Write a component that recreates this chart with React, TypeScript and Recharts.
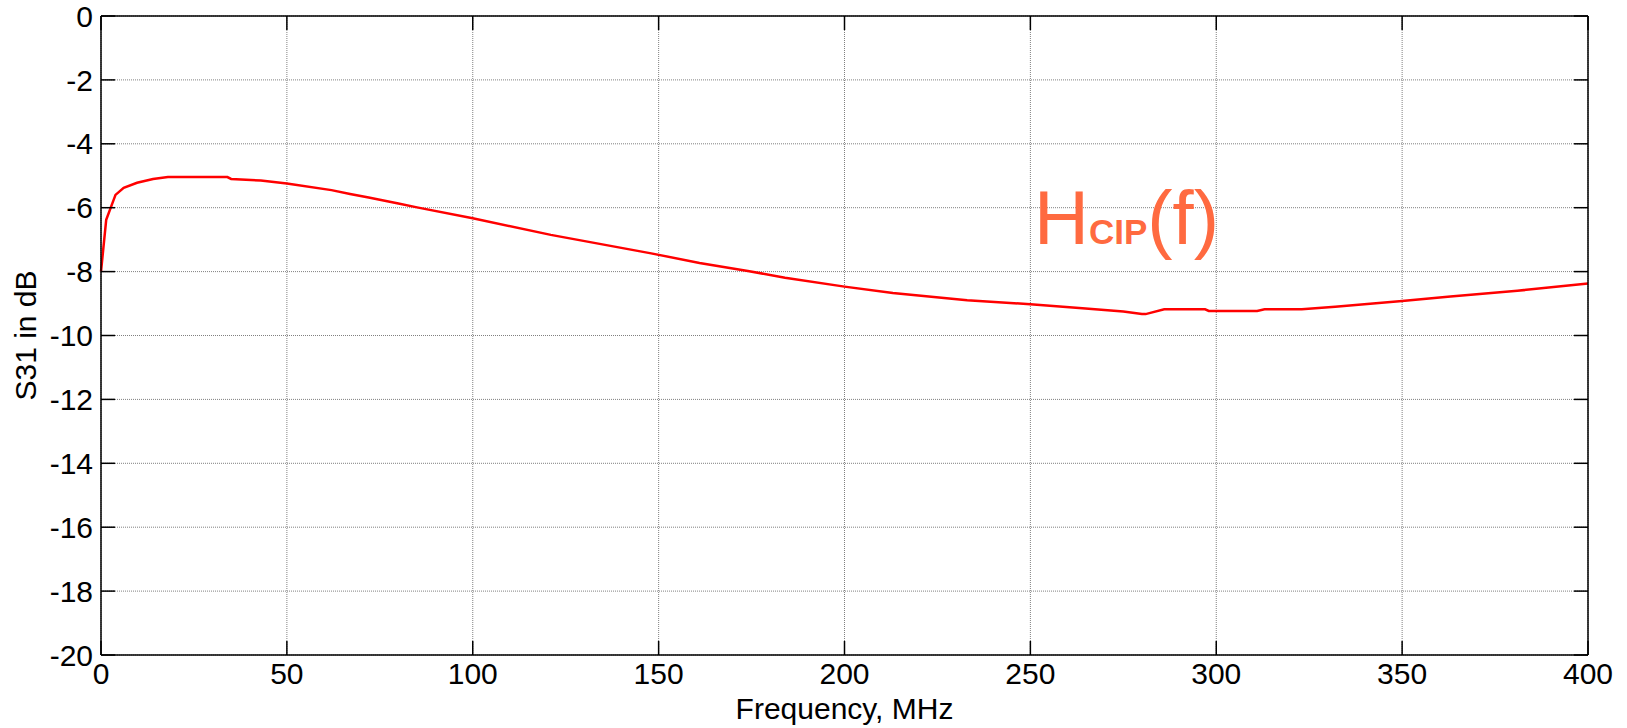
import React from "react";
import { LineChart, Line, XAxis, YAxis, CartesianGrid, Label } from "recharts";

// frequency in MHz and S31 in dB
const freqMHz = [
  0, 1.4, 3.9, 6.1, 9.7, 14, 18, 34, 35, 43, 50, 62, 67, 72, 80, 85, 100, 121, 148,
  161, 174, 184, 200, 213, 233, 250, 264, 275, 280, 281, 286, 297, 298, 311, 313,
  323, 332, 350, 363, 381, 400,
];
const s31dB = [
  -8.0, -6.38, -5.6, -5.38, -5.22, -5.1, -5.04, -5.04, -5.1, -5.15, -5.24, -5.45,
  -5.57, -5.68, -5.87, -5.99, -6.33, -6.85, -7.43, -7.73, -7.98, -8.19, -8.47,
  -8.67, -8.9, -9.02, -9.15, -9.25, -9.33, -9.33, -9.18, -9.18, -9.23, -9.23,
  -9.18, -9.18, -9.1, -8.92, -8.78, -8.6, -8.37,
];
const xTicks = [0, 50, 100, 150, 200, 250, 300, 350, 400];
const yTicks = [0, -2, -4, -6, -8, -10, -12, -14, -16, -18, -20];

const data = freqMHz.map((f, i) => ({ f, s31: s31dB[i] }));

const FONT = "Arial, 'Liberation Sans', Helvetica, sans-serif";
const frame = { stroke: "#000", strokeWidth: 1.5 };
const inTick = { stroke: "#000", strokeWidth: 1.5 };
const noLabel = () => <g />;

export default function App() {
  return (
    <div
      style={{
        position: "absolute",
        left: 0,
        top: 0,
        width: 1627,
        height: 728,
        background: "#fff",
        fontFamily: FONT,
      }}
    >
      <LineChart
        width={1627}
        height={728}
        data={data}
        margin={{ top: 16, right: 39, bottom: 0, left: 0 }}
        style={{ fontFamily: FONT }}
      >
        <CartesianGrid stroke="#808080" strokeDasharray="1 1" />
        <XAxis
          dataKey="f"
          type="number"
          domain={[0, 400]}
          ticks={xTicks}
          interval={0}
          height={73}
          axisLine={frame}
          tickLine={false}
          tickMargin={2}
          tick={{ fill: "#000", fontSize: 30 }}
        >
          <Label value="Frequency, MHz" position="insideBottom" offset={9} fill="#000" fontSize={30} />
        </XAxis>
        <YAxis
          type="number"
          domain={[-20, 0]}
          ticks={yTicks}
          interval={0}
          width={101}
          axisLine={frame}
          tickLine={false}
          tick={{ fill: "#000", fontSize: 30 }}
        >
          <Label
            value="S31 in dB"
            angle={-90}
            position="insideLeft"
            offset={25}
            fill="#000"
            fontSize={30}
            style={{ textAnchor: "middle" }}
          />
        </YAxis>

        {/* inward tick marks and the closed box, matlab style */}
        <XAxis
          xAxisId="top"
          orientation="top"
          mirror
          dataKey="f"
          type="number"
          domain={[0, 400]}
          ticks={xTicks}
          interval={0}
          tick={noLabel}
          tickSize={14}
          axisLine={frame}
          tickLine={inTick}
        />
        <XAxis
          xAxisId="bottomIn"
          orientation="bottom"
          mirror
          dataKey="f"
          type="number"
          domain={[0, 400]}
          ticks={xTicks}
          interval={0}
          tick={noLabel}
          tickSize={14}
          axisLine={false}
          tickLine={inTick}
        />
        <YAxis
          yAxisId="right"
          orientation="right"
          mirror
          type="number"
          domain={[-20, 0]}
          ticks={yTicks}
          interval={0}
          tick={noLabel}
          tickSize={14}
          axisLine={frame}
          tickLine={inTick}
        />
        <YAxis
          yAxisId="leftIn"
          orientation="left"
          mirror
          type="number"
          domain={[-20, 0]}
          ticks={yTicks}
          interval={0}
          tick={noLabel}
          tickSize={14}
          axisLine={false}
          tickLine={inTick}
        />

        {/* invisible copies so the tick-only axes get a scale */}
        <Line
          xAxisId="top"
          yAxisId="right"
          dataKey="s31"
          stroke="none"
          dot={false}
          activeDot={false}
          legendType="none"
          isAnimationActive={false}
        />
        <Line
          xAxisId="bottomIn"
          yAxisId="leftIn"
          dataKey="s31"
          stroke="none"
          dot={false}
          activeDot={false}
          legendType="none"
          isAnimationActive={false}
        />

        <Line
          dataKey="s31"
          type="linear"
          stroke="#ff0000"
          strokeWidth={2.5}
          dot={false}
          isAnimationActive={false}
        />
      </LineChart>

      <svg
        width={1627}
        height={728}
        style={{ position: "absolute", left: 0, top: 0, pointerEvents: "none" }}
      >
        <text x={1034} y={244} fill="#ff6a40" fontFamily={FONT} fontSize={76}>
          H
          <tspan fontSize={35} fontWeight="bold">CIP</tspan>
          <tspan>(f)</tspan>
        </text>
      </svg>
    </div>
  );
}
